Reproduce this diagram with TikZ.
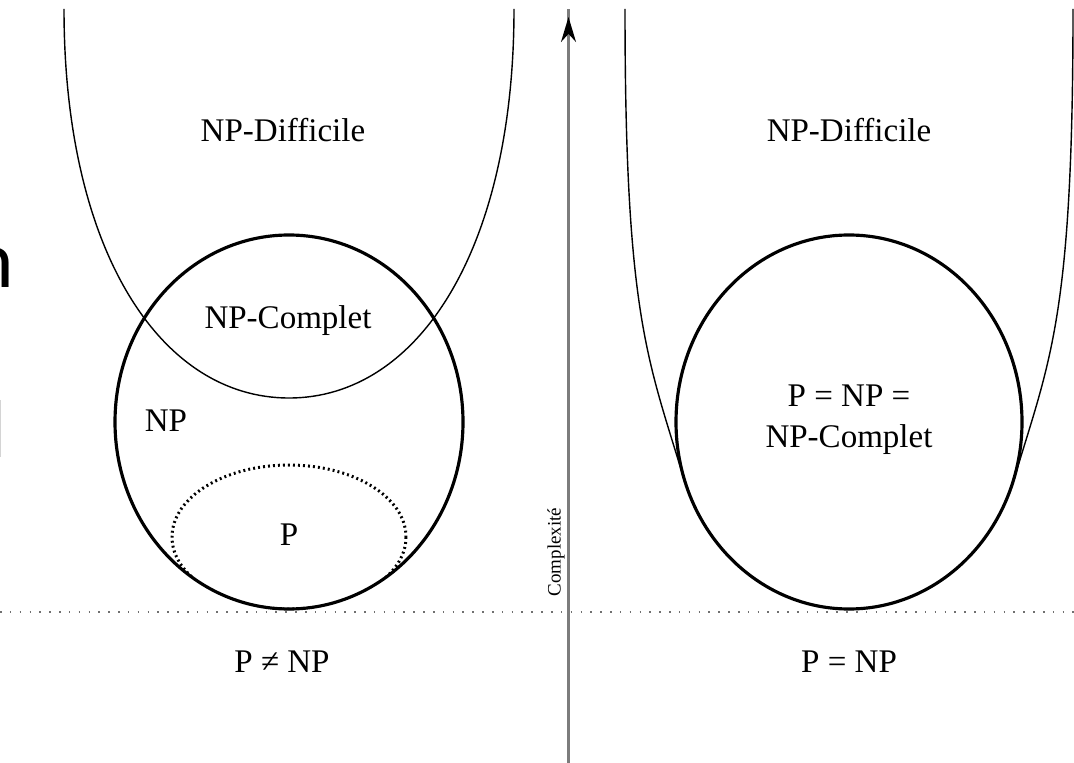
\documentclass[tikz,border=0pt]{standalone}
\usepackage{fontspec}
\setmainfont{Liberation Serif}
\newfontfamily\slidefont{Carlito}
\usetikzlibrary{arrows.meta,positioning}
\definecolor{ink}{HTML}{000000}
\definecolor{axisgray}{HTML}{7C7C7C}
\definecolor{dotgray}{HTML}{707070}
\definecolor{faint}{HTML}{D4D4D4}
\tikzset{
  classe/.style={draw=ink, line width=1.8pt},
  difficile/.style={draw=ink, line width=0.8pt},
  incluse/.style={draw=ink, line width=1.7pt, dash pattern=on 1.1pt off 1.75pt},
  seuil/.style={draw=dotgray, line width=1pt, dash pattern=on 0.9pt off 4.7pt},
  axe/.style={draw=axisgray, line width=1.3pt},
  etiquette/.style={font=\fontsize{18.8}{23.2}\selectfont, inner sep=0pt, align=center, text=ink},
  axelabel/.style={font=\fontsize{10.8}{12}\selectfont, rotate=90, inner sep=0pt, text=ink},
}

\begin{document}
\begin{tikzpicture}[x=0.02cm, y=-0.02cm]
\useasboundingbox (0,0) rectangle (1074,763);
\clip (0,0) rectangle (1074,763);
% centres of the classes
\coordinate (npL) at (289,422);
\coordinate (pL) at (289,537);
\coordinate (npR) at (849,422);
\coordinate (axbas) at (568.5,763);
\coordinate (axpointe) at (568.5,17);
\coordinate (axhaut) at (568.5,9);
% cut-off slide text on the left edge
\node[font=\slidefont\fontsize{46}{50}\selectfont, anchor=base east, inner sep=0pt] (coupe) at (14,288) {n};
\draw[faint, line width=0.8pt] (0.7,400) -- (0.7,457);
% threshold and axis
\draw[seuil] (0,612) -- (1074,612);
\draw[axe] (axbas) -- (axhaut);
\draw[axe, -{Stealth[length=0.5cm, width=0.3cm, color=ink]}] (axbas) -- (axpointe);
\node[axelabel] (cplx) at (556,552) {Complexité};
% P != NP
\draw[difficile] (64,9) .. controls (64,250) and (160,398) .. (289,398) .. controls (418,398) and (514,250) .. (514,9);
\draw[classe] (npL) ellipse [x radius=174, y radius=187];
\begin{scope}
  \clip (npL) ellipse [x radius=174, y radius=187];
  \draw[incluse] (pL) ellipse [x radius=117, y radius=72];
\end{scope}
\node[etiquette] (ndL) at (283,130) {NP-Difficile};
\node[etiquette] (ncL) at (288,321) {NP-Complet};
\node[etiquette] (np) at (166,421) {NP};
\node[etiquette] (p) at (289,535) {P};
\node[etiquette] (pneq) at (282,662) {P ≠ NP};
% P = NP
\draw[difficile] (625,9) .. controls (625,320) and (648.5,360) .. (684.2,480);
\draw[difficile] (1073,9) .. controls (1073,320) and (1049.5,360) .. (1013.8,480);
\draw[classe] (npR) ellipse [x radius=173, y radius=187];
\node[etiquette] (ndR) at (849,130) {NP-Difficile};
\node[etiquette] (egal) at (849,420) {P = NP =\\NP-Complet};
\node[etiquette] (peq) at (849,662) {P = NP};
\end{tikzpicture}
\end{document}
